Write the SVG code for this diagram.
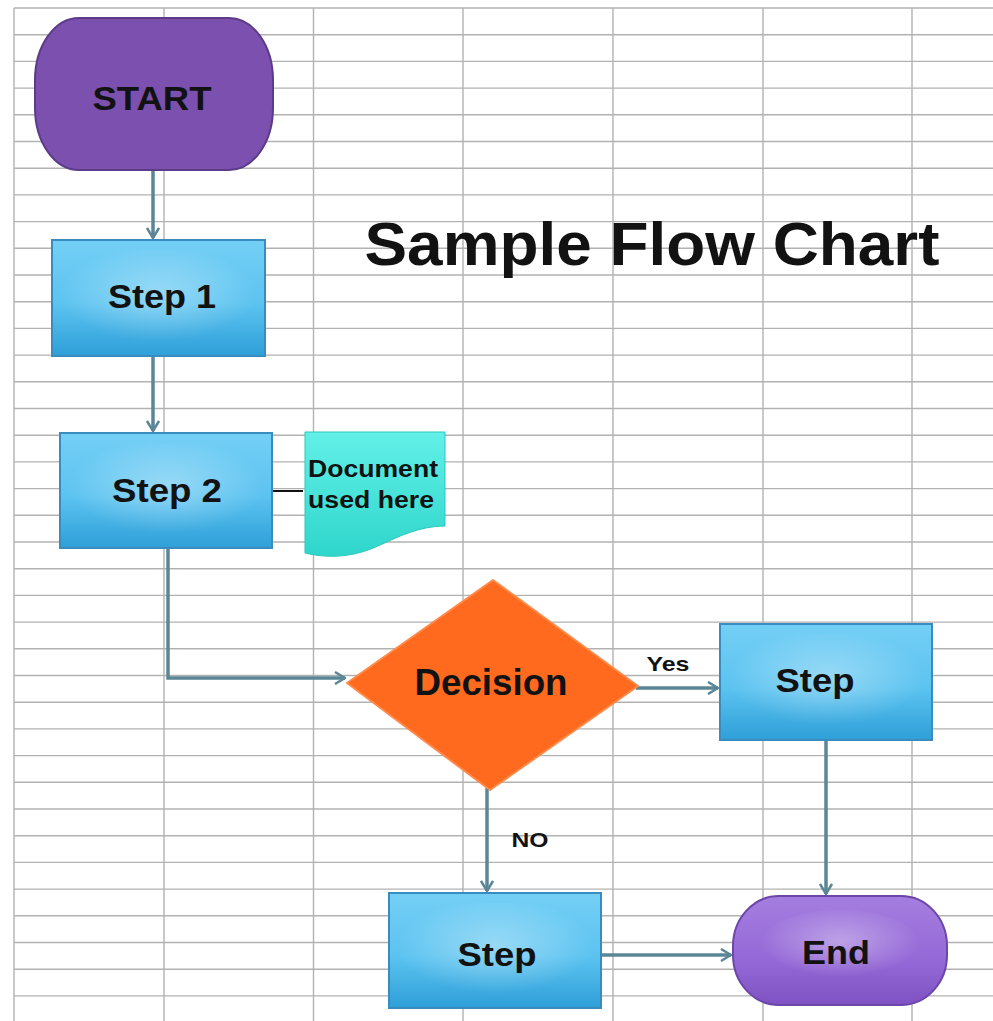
<svg xmlns="http://www.w3.org/2000/svg" width="993" height="1021" viewBox="0 0 993 1021">
<defs>
<style>
.grid{stroke:#b2b2b2;stroke-width:1.4;fill:none}
.conn{stroke:#5a8696;stroke-width:3.5;fill:none}
.lbl{font-family:"Liberation Sans",Arial,sans-serif;font-weight:bold;fill:#121212;text-anchor:middle}
.step{stroke:#3a8cbf;stroke-width:2;fill:url(#blue)}
</style>
<linearGradient id="blue" x1="0" y1="0" x2="0" y2="1">
<stop offset="0" stop-color="#74cff5"/>
<stop offset="0.55" stop-color="#5cc3f0"/>
<stop offset="1" stop-color="#2e9fd8"/>
</linearGradient>
<radialGradient id="glow" cx="0.5" cy="0.45" r="0.5">
<stop offset="0" stop-color="#ffffff" stop-opacity="0.35"/>
<stop offset="1" stop-color="#ffffff" stop-opacity="0"/>
</radialGradient>
<linearGradient id="purple2" x1="0" y1="0" x2="0" y2="1">
<stop offset="0" stop-color="#a57ee0"/>
<stop offset="0.6" stop-color="#9468d6"/>
<stop offset="1" stop-color="#7e52c2"/>
</linearGradient>
<linearGradient id="teal" x1="0" y1="0" x2="0" y2="1">
<stop offset="0" stop-color="#62f0e8"/>
<stop offset="1" stop-color="#2fd6cb"/>
</linearGradient>
<marker id="arr" viewBox="0 0 12 14" refX="11" refY="7" markerWidth="12" markerHeight="14" markerUnits="userSpaceOnUse" orient="auto">
<path d="M1,1 L11,7 L1,13" fill="none" stroke="#5a8696" stroke-width="2.5"/>
</marker>
</defs>
<rect x="0" y="0" width="993" height="1021" fill="#ffffff"/>
<g id="grid">
<path class="grid" d="M14,8H993M14,34.7H993M14,61.4H993M14,88.1H993M14,114.8H993M14,141.5H993M14,168.2H993M14,194.9H993M14,221.6H993M14,248.3H993M14,275H993M14,301.7H993M14,328.4H993M14,355.1H993M14,381.8H993M14,408.5H993M14,435.2H993M14,461.9H993M14,488.6H993M14,515.3H993M14,542H993M14,568.7H993M14,595.4H993M14,622.1H993M14,648.8H993M14,675.5H993M14,702.2H993M14,728.9H993M14,755.6H993M14,782.3H993M14,809H993M14,835.7H993M14,862.4H993M14,889.1H993M14,915.8H993M14,942.5H993M14,969.2H993M14,995.9H993"/>
<path class="grid" d="M14,8V1021M164,8V1021M313.5,8V1021M463,8V1021M613,8V1021M763,8V1021M912,8V1021"/>
</g>
<text class="lbl" x="652" y="265" font-size="61" textLength="575" lengthAdjust="spacingAndGlyphs" fill="#000">Sample Flow Chart</text>
<g id="connectors">
<path class="conn" marker-end="url(#arr)" d="M153,170V238"/>
<path class="conn" marker-end="url(#arr)" d="M153,356V431"/>
<path class="conn" marker-end="url(#arr)" d="M168,548V678H345"/>
<path class="conn" marker-end="url(#arr)" d="M636,688H718"/>
<path class="conn" marker-end="url(#arr)" d="M826,740V894"/>
<path class="conn" marker-end="url(#arr)" d="M487,788V891"/>
<path class="conn" marker-end="url(#arr)" d="M601,955H731"/>
<path d="M272,491H303" stroke="#111" stroke-width="2"/>
<text class="lbl" x="668" y="671" font-size="21" textLength="43" lengthAdjust="spacingAndGlyphs">Yes</text>
<text class="lbl" x="530" y="847" font-size="21" textLength="37" lengthAdjust="spacingAndGlyphs">NO</text>
</g>
<g id="start">
<rect x="35" y="18" width="238" height="152" rx="44" ry="62" fill="#7b50ae" stroke="#5c3b88" stroke-width="2"/>
<text class="lbl" x="152" y="110" font-size="34" textLength="119" lengthAdjust="spacingAndGlyphs">START</text>
</g>
<g id="step1">
<rect class="step" x="52" y="240" width="213" height="116"/>
<rect x="60" y="250" width="197" height="96" fill="url(#glow)"/>
<text class="lbl" x="162" y="308" font-size="34" textLength="108" lengthAdjust="spacingAndGlyphs">Step 1</text>
</g>
<g id="step2">
<rect class="step" x="60" y="433" width="212" height="115"/>
<rect x="68" y="443" width="196" height="95" fill="url(#glow)"/>
<text class="lbl" x="167" y="502" font-size="34" textLength="110" lengthAdjust="spacingAndGlyphs">Step 2</text>
</g>
<g id="document">
<path d="M305,432H445V526C420,526 400,536 380,545C355,557 330,559 305,553Z" fill="url(#teal)" stroke="#2cc7bc" stroke-width="1"/>
<text class="lbl" x="373" y="477" font-size="23" textLength="130" lengthAdjust="spacingAndGlyphs">Document</text>
<text class="lbl" x="371" y="508" font-size="23" textLength="126" lengthAdjust="spacingAndGlyphs">used here</text>
</g>
<g id="decision">
<path d="M493,580L638,686L490,790L347,683Z" fill="#ff6a1e" stroke="#ff8a4a" stroke-width="2" stroke-linejoin="round"/>
<text class="lbl" x="491" y="695" font-size="36" textLength="153" lengthAdjust="spacingAndGlyphs">Decision</text>
</g>
<g id="stepYes">
<rect class="step" x="720" y="624" width="212" height="116"/>
<rect x="728" y="634" width="196" height="96" fill="url(#glow)"/>
<text class="lbl" x="815" y="692" font-size="34" textLength="79" lengthAdjust="spacingAndGlyphs">Step</text>
</g>
<g id="stepNo">
<rect class="step" x="389" y="893" width="212" height="115"/>
<rect x="397" y="903" width="196" height="95" fill="url(#glow)"/>
<text class="lbl" x="497" y="966" font-size="34" textLength="79" lengthAdjust="spacingAndGlyphs">Step</text>
</g>
<g id="end">
<rect x="733" y="896" width="214" height="109" rx="46" ry="50" fill="url(#purple2)" stroke="#6c46a8" stroke-width="2"/>
<ellipse cx="840" cy="945" rx="80" ry="35" fill="url(#glow)"/>
<text class="lbl" x="836" y="964" font-size="34" textLength="68" lengthAdjust="spacingAndGlyphs">End</text>
</g>
</svg>
